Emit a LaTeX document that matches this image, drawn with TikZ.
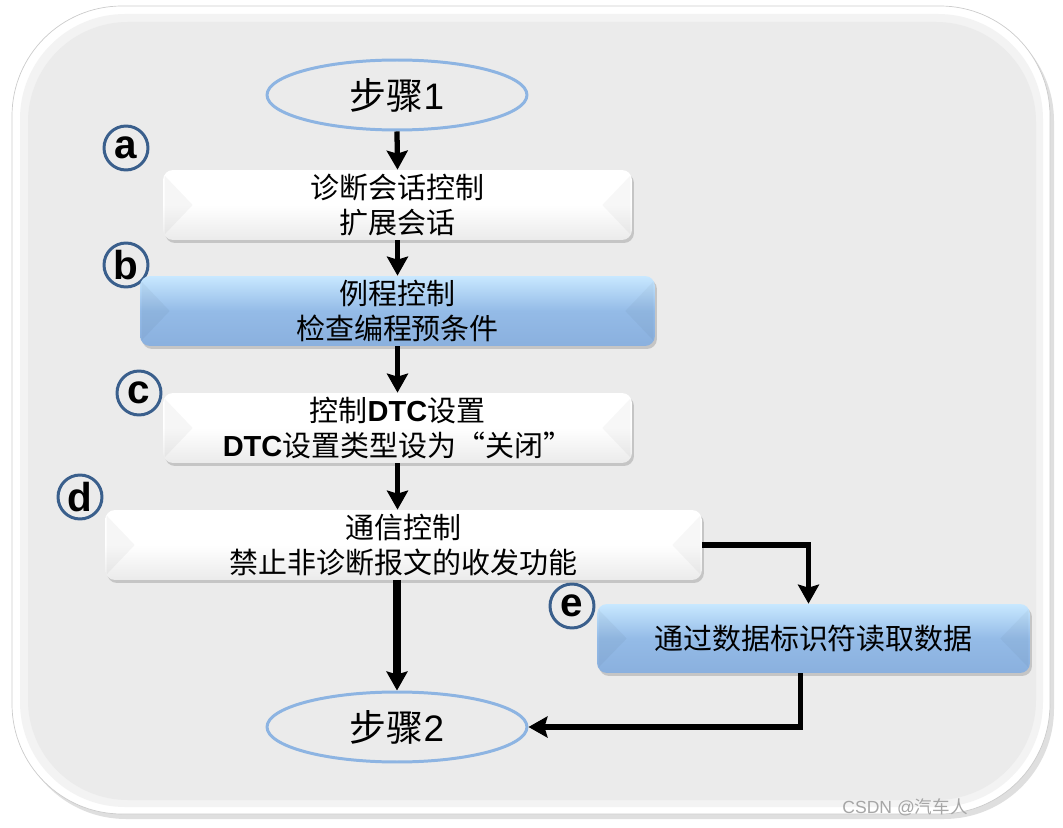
\documentclass[tikz,border=0pt]{standalone}
\usepackage{fontspec}
\setmainfont{Liberation Sans}
\newfontfamily\cjk{Noto Sans CJK SC}
\usetikzlibrary{shapes.geometric, arrows.meta, calc, shadows}

\definecolor{bggray}{RGB}{235,235,235}
\definecolor{stepblue}{RGB}{141,180,226}
\definecolor{ringblue}{RGB}{58,95,140}
\definecolor{blueTop}{RGB}{200,232,255}
\definecolor{blueMid}{RGB}{148,187,231}
\definecolor{blueBot}{RGB}{138,176,222}

\newcommand{\dtc}{{\normalfont\bfseries DTC}}

\tikzset{
	stepnode/.style={ellipse, draw=stepblue, line width=1.7pt, minimum width=5.2cm, minimum height=1.4cm, font=\fontsize{21}{25}\selectfont\cjk},
	boxbase/.style={rounded corners=0.2cm, minimum height=1.4cm, inner sep=1pt, align=center,
		font=\fontsize{16.5}{19.8}\selectfont\cjk,
		drop shadow={shadow xshift=0.04cm, shadow yshift=-0.06cm, opacity=0.35}},
	whitebox/.style={boxbase, top color=white, bottom color=gray!16, middle color=white},
	bluebox/.style={boxbase, top color=blueTop, bottom color=blueBot, middle color=blueMid},
	badge/.style={circle, draw=ringblue, line width=1.7pt, minimum size=0.88cm, inner sep=0pt, font=\fontsize{23}{23}\selectfont\bfseries},
	flow/.style={line width=3pt, -{Stealth[length=0.38cm, width=0.42cm, inset=0.06cm]}}
}

\begin{document}
\begin{tikzpicture}[x=0.02cm, y=-0.02cm]
	\useasboundingbox (0,0) rectangle (1063,828);
	
	% Background panel
	\fill[gray!50, opacity=0.5, rounded corners=2.2cm] (16,11) rectangle (1054,819);
	\fill[white, draw=gray!40, rounded corners=2.2cm] (12,6) rectangle (1050,814);
	\fill[bggray!60!white, rounded corners=2.1cm] (20,14) rectangle (1043,807);
	\fill[bggray, rounded corners=2cm] (28,22) rectangle (1036,800);
	
	% Letters
	\foreach \n/\x/\y in {a/126/148, b/126/265, c/139/393, d/80/497, e/572/606}
		\node[badge] (tag\n) at (\x,\y) {\n};
	
	% Steps
	\node[stepnode] (s1) at (397,95) {步骤{\normalfont 1}};
	\node[stepnode] (s2) at (397,727) {步骤{\normalfont 2}};
	
	% Boxes
	\node[whitebox, minimum width=9.38cm] (a) at (397.5,205) {诊断会话控制\\扩展会话};
	\node[bluebox, minimum width=10.3cm] (b) at (397.5,311) {例程控制\\检查编程预条件};
	\node[whitebox, minimum width=9.38cm] (c) at (397.5,428) {控制\dtc 设置\\\dtc 设置类型设为“关闭”};
	\node[whitebox, minimum width=11.94cm] (d) at (403.5,545) {通信控制\\禁止非诊断报文的收发功能};
	\node[bluebox, minimum width=8.66cm, minimum height=1.38cm] (e) at (813.5,638.5) {通过数据标识符读取数据};
	
	% Bevel ends
	\foreach \b in {a,b,c,d,e} {
		\fill[black, opacity=0.035] ($(\b.north west)+(2,6)$) -- ($(\b.west)+(30,0)$) -- ($(\b.south west)+(2,-6)$) -- cycle;
		\fill[black, opacity=0.03] ($(\b.north east)+(-2,6)$) -- ($(\b.east)+(-30,0)$) -- ($(\b.south east)+(-2,-6)$) -- cycle;
	}
	
	% Arrows
	\draw[flow] (s1.south) -- (a.north);
	\draw[flow] (a.south) -- (b.north);
	\draw[flow] (b.south) -- (c.north);
	\draw[flow] (c.south) -- (c.south |- d.north);
	\draw[flow, line width=4.5pt] (d.south -| s2.north) -- (s2.north);
	\draw[flow] (d.east) -| ($(e.north)+(-5,0)$);
	\draw[flow] ($(e.south)+(-13,0)$) |- (s2.east);
	
	% Watermark
	\node[gray!70, font=\fontsize{10}{10}\selectfont] (mark) at (905,807) {CSDN @{\cjk 汽车人}};
\end{tikzpicture}
\end{document}
